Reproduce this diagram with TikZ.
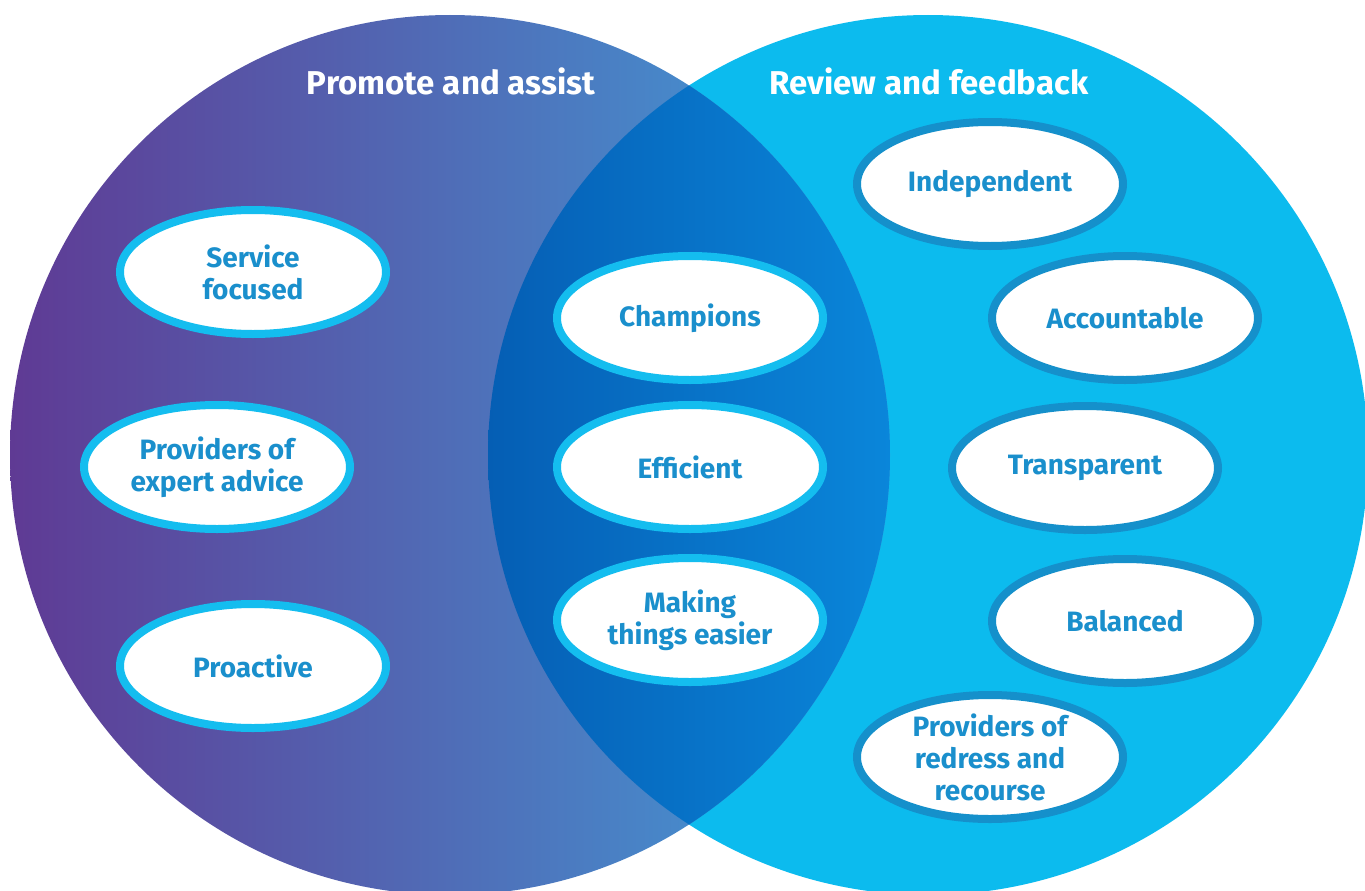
\documentclass[tikz,border=0pt]{standalone}
\usepackage{fontspec}
\setmainfont{Fira Sans}
\usetikzlibrary{shapes.geometric}
\definecolor{purp}{HTML}{5F3A94}
\definecolor{lblue}{HTML}{40A0DA}
\definecolor{dkA}{HTML}{055EB4}
\definecolor{dkB}{HTML}{0A86DA}
\definecolor{cyanR}{HTML}{0CBBEE}
\definecolor{bordL}{HTML}{14BDEF}
\definecolor{bordR}{HTML}{1590CB}
\definecolor{txt}{HTML}{1A8FCC}
\tikzset{
  oval/.style={ellipse, draw=bordL, line width=8pt, fill=white, minimum width=266pt, minimum height=124pt, inner sep=0pt, align=center, text=txt, font=\fontsize{28}{32}\selectfont\bfseries},
  ovalR/.style={oval, draw=bordR},
  title/.style={text=white, font=\fontsize{33}{38}\selectfont\bfseries}
}
\begin{document}
\begin{tikzpicture}[x=1pt,y=-1pt]
\useasboundingbox (0,0) rectangle (1365,891);
\coordinate (cL) at (450,455);
\coordinate (cR) at (928,455);
\begin{scope}
\clip (0,0) rectangle (1365,891);
\fill[cyanR] (cR) circle (440);
\shade[left color=purp, right color=lblue] (cL) circle (440);
\begin{scope}
\clip (cR) circle (440);
\clip (cL) circle (440);
\shade[left color=dkA, right color=dkB] (488,0) rectangle (890,891);
\end{scope}
\end{scope}
% titles
\node[title] (t1) at (451,81) {Promote and assist};
\node[title] (t2) at (929,81) {Review and feedback};
% left
\node[oval] (sf) at (253,272) {Service\\focused};
\node[oval] (pe) at (217,467) {Providers of\\expert advice};
\node[oval] (pa) at (253,666) {Proactive};
% middle
\node[oval] (ch) at (690,318) {Champions};
\node[oval] (ef) at (690,467) {Efficient};
\node[oval] (mt) at (690,620) {Making\\things easier};
% right
\node[ovalR] (in) at (990,184) {Independent};
\node[ovalR] (ac) at (1125,318) {Accountable};
\node[ovalR] (tr) at (1085,468) {Transparent};
\node[ovalR] (ba) at (1125,621) {Balanced};
\node[ovalR] (pr) at (990,757) {Providers of\\redress and\\recourse};
\end{tikzpicture}
\end{document}
